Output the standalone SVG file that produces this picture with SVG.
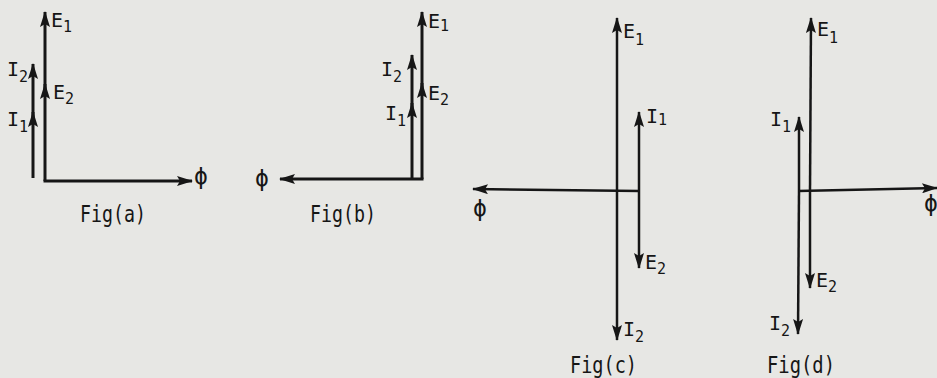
<svg xmlns="http://www.w3.org/2000/svg" width="937" height="378" viewBox="0 0 937 378">
<defs>
<marker id="ah" viewBox="0 0 16 10" refX="15" refY="5" markerWidth="17" markerHeight="10" markerUnits="userSpaceOnUse" orient="auto">
<path d="M0,0 L16,5 L0,10 L3,5 z" fill="#161616"/>
</marker>
</defs>
<style>
.ln{stroke:#161616;stroke-width:3;fill:none}
.lt{stroke:#161616;stroke-width:2.5;fill:none}
.a{marker-end:url(#ah)}
text{font-family:"DejaVu Sans Mono","Liberation Mono",monospace;fill:#161616;font-size:20px}
.s{font-size:15px}
.ph{font-size:23px}
.cap{font-size:23px}
</style>
<rect width="937" height="378" fill="#e7e7e4"/>
<g id="connectors">
<!-- Fig a -->
<path class="ln a" d="M45,181 L45,84"/>
<path class="ln a" d="M45,90 L45,12"/>
<path class="ln a" d="M33,178 L33,112"/>
<path class="ln a" d="M33,118 L33,64"/>
<path class="ln a" d="M43.5,181 L192,181"/>
<!-- Fig b -->
<path class="ln a" d="M422,179 L422,83"/>
<path class="ln a" d="M422,89 L422,12"/>
<path class="ln a" d="M412,179 L412,103"/>
<path class="ln a" d="M412,109 L412,55"/>
<path class="ln a" d="M423.5,179 L280,179"/>
<!-- Fig c -->
<path class="lt a" d="M617,191 L617,18"/>
<path class="lt a" d="M617,191 L617,340"/>
<path class="lt a" d="M639,191 L639,112"/>
<path class="lt a" d="M639,191 L639,268"/>
<path class="lt a" d="M640,191 L473,189"/>
<!-- Fig d -->
<path class="lt a" d="M810,191 L811,18"/>
<path class="lt a" d="M810,191 L810,288"/>
<path class="lt a" d="M799,191 L799,117"/>
<path class="lt a" d="M799,191 L798,334"/>
<path class="lt a" d="M798,191 L937,188"/>
</g>
<g id="fig-a">
<text x="51" y="27">E<tspan class="s" dy="5">1</tspan></text>
<text x="53" y="99">E<tspan class="s" dy="5">2</tspan></text>
<text x="7" y="76">I<tspan class="s" dy="6">2</tspan></text>
<text x="7" y="126">I<tspan class="s" dy="6">1</tspan></text>
<text class="ph" x="194" y="184">ϕ</text>
<text class="cap" x="80" y="222" textLength="66" lengthAdjust="spacingAndGlyphs">Fig(a)</text>
</g>
<g id="fig-b">
<text x="428" y="28">E<tspan class="s" dy="3">1</tspan></text>
<text x="428" y="100">E<tspan class="s" dy="5">2</tspan></text>
<text x="381" y="76">I<tspan class="s" dy="6">2</tspan></text>
<text x="385" y="120">I<tspan class="s" dy="6">1</tspan></text>
<text class="ph" x="255" y="186">ϕ</text>
<text class="cap" x="310" y="222" textLength="66" lengthAdjust="spacingAndGlyphs">Fig(b)</text>
</g>
<g id="fig-c">
<text x="623" y="38">E<tspan class="s" dy="7">1</tspan></text>
<text x="646" y="123">I<tspan class="s" dy="2">1</tspan></text>
<text x="645" y="269">E<tspan class="s" dy="5">2</tspan></text>
<text x="623" y="336">I<tspan class="s" dy="6">2</tspan></text>
<text class="ph" x="473" y="216">ϕ</text>
<text class="cap" x="570" y="373" textLength="67" lengthAdjust="spacingAndGlyphs">Fig(c)</text>
</g>
<g id="fig-d">
<text x="817" y="36">E<tspan class="s" dy="7">1</tspan></text>
<text x="770" y="126">I<tspan class="s" dy="6">1</tspan></text>
<text x="816" y="287">E<tspan class="s" dy="5">2</tspan></text>
<text x="769" y="330">I<tspan class="s" dy="6">2</tspan></text>
<text class="ph" x="924" y="211">ϕ</text>
<text class="cap" x="767" y="373" textLength="68" lengthAdjust="spacingAndGlyphs">Fig(d)</text>
</g>
</svg>
